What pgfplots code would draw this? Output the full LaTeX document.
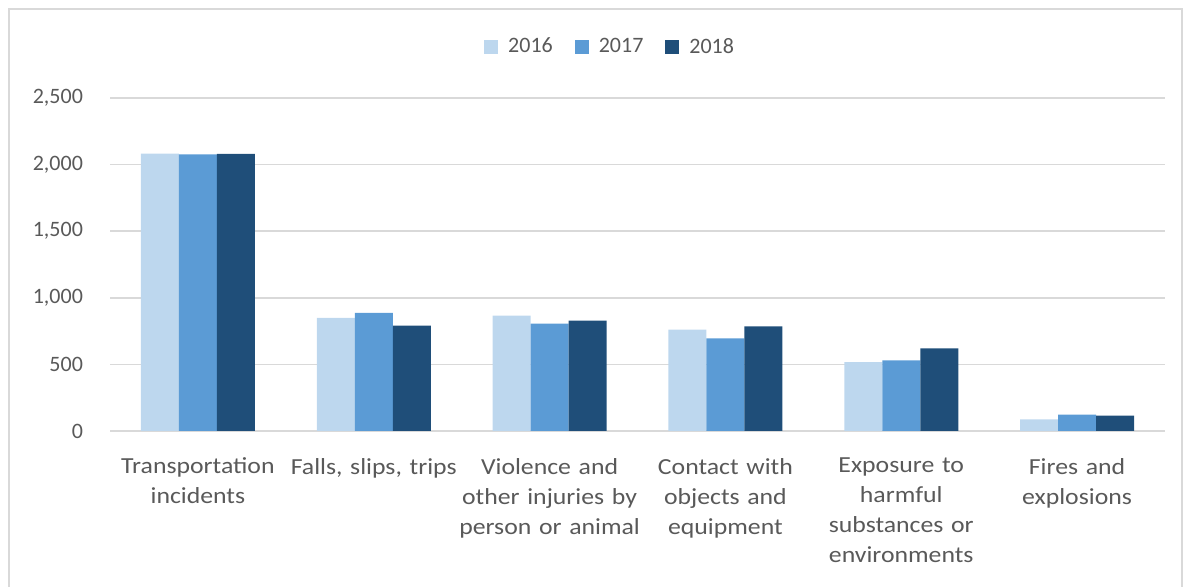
\documentclass[border=0pt]{standalone}
\usepackage{pgfplots}
\pgfplotsset{compat=1.18}
\usepackage{fontspec}
\setmainfont{Carlito}
\newfontfamily\lblfont{Carlito}[FakeStretch=1.12]
\definecolor{c16}{HTML}{BDD7EE}
\definecolor{c17}{HTML}{5B9BD5}
\definecolor{c18}{HTML}{1F4E79}
\definecolor{txt}{HTML}{595959}
\definecolor{gridc}{HTML}{D9D9D9}
\begin{document}
\begin{tikzpicture}
\useasboundingbox (0,0) rectangle (595pt,-293.5pt);
\begin{scope}
\clip (0,0) rectangle (595pt,-293.5pt);
\draw[gridc, line width=1pt] (4.5pt,-4.5pt) rectangle (591pt,-350pt);
\end{scope}
\begin{axis}[
  scale only axis, width=527.5pt, height=166.5pt,
  at={(55pt,-215.5pt)}, anchor=south west,
  xmin=-0.5, xmax=5.5, ymin=0, ymax=2500,
  ytick={0,500,...,2500},
  ymajorgrids, grid style={gridc, line width=0.8pt},
  axis line style={draw=none},
  major tick length=0pt,
  xtick={0,...,5},
  xticklabels={{Transportation\\incidents},{Falls, slips, trips},{Violence and\\other injuries by\\person or animal},{Contact with\\objects and\\equipment},{Exposure to\\harmful\\substances or\\environments},{Fires and\\explosions}},
  xticklabel style={align=center, text width=105pt, font=\lblfont\fontsize{11.5}{15}\selectfont, text=txt, yshift=-10pt},
  yticklabel style={font=\fontsize{11}{13}\selectfont, text=txt, xshift=-10pt},
  /pgf/number format/.cd, 1000 sep={,}, assume math mode=true, /pgfplots/.cd,
  ybar=0pt, bar width=19pt,
  legend style={at={(0.475,1.153)}, anchor=center, legend columns=-1, draw=none, fill=none,
    font=\fontsize{11}{13}\selectfont, text=txt,
    /tikz/every odd column/.append style={column sep=3pt},
    /tikz/every even column/.append style={column sep=9pt}},
  legend image code/.code={\fill[#1] (0pt,-3.5pt) rectangle (7pt,3.5pt);},
]
\addplot[fill=c16, draw=none] coordinates {(0,2083) (1,849) (2,866) (3,761) (4,518) (5,88)};
\addplot[fill=c17, draw=none] coordinates {(0,2077) (1,887) (2,807) (3,695) (4,531) (5,123)};
\addplot[fill=c18, draw=none] coordinates {(0,2080) (1,791) (2,828) (3,786) (4,621) (5,115)};
\legend{2016,2017,2018}
\end{axis}
\end{tikzpicture}
\end{document}
